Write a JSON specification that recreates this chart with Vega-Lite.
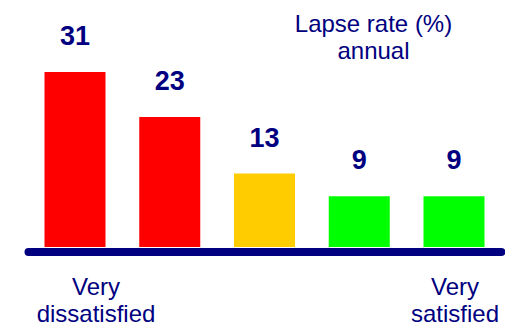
{
  "$schema": "https://vega.github.io/schema/vega-lite/v6.json",
  "width": 473,
  "height": 240,
  "autosize": {"type": "none"},
  "padding": {"left": 28, "top": 7, "right": 4, "bottom": 80},
  "background": "white",
  "config": {
    "view": {"stroke": null},
    "font": "Liberation Sans"
  },
  "title": {
    "text": ["Lapse rate (%)", "annual"],
    "anchor": "middle",
    "align": "center",
    "baseline": "top",
    "dx": 109,
    "offset": -57,
    "lineHeight": 27,
    "font": "Liberation Sans",
    "fontSize": 24,
    "fontWeight": "normal",
    "color": "#000080"
  },
  "data": {
    "values": [
      {"satisfaction": "Very dissatisfied", "lapse": 31},
      {"satisfaction": "Dissatisfied", "lapse": 23},
      {"satisfaction": "Neutral", "lapse": 13},
      {"satisfaction": "Satisfied", "lapse": 9},
      {"satisfaction": "Very satisfied", "lapse": 9}
    ]
  },
  "encoding": {
    "x": {
      "field": "satisfaction",
      "type": "nominal",
      "sort": null,
      "scale": {"paddingInner": 0.356, "paddingOuter": 0.174},
      "axis": {
        "title": null,
        "labelAngle": 0,
        "ticks": false,
        "offset": 4.5,
        "domainColor": "#000080",
        "domainWidth": 8,
        "domainCap": "round",
        "labelExpr": "datum.value == 'Very dissatisfied' || datum.value == 'Very satisfied' ? split(datum.value, ' ') : ''",
        "labelFont": "Liberation Sans",
        "labelFontSize": 24,
        "labelColor": "#000080",
        "labelLineHeight": 27,
        "labelPadding": 24,
        "labelBaseline": "top",
        "labelOverlap": false,
        "labelLimit": 0,
        "labelOffset": {
          "condition": {"test": "datum.value == 'Very dissatisfied'", "value": 21},
          "value": 1
        }
      }
    },
    "y": {
      "field": "lapse",
      "type": "quantitative",
      "scale": {"domain": [0, 42.5]},
      "axis": null
    }
  },
  "layer": [
    {
      "mark": {"type": "bar"},
      "encoding": {
        "color": {
          "field": "satisfaction",
          "type": "nominal",
          "sort": null,
          "scale": {
            "domain": ["Very dissatisfied", "Dissatisfied", "Neutral", "Satisfied", "Very satisfied"],
            "range": ["#ff0000", "#ff0000", "#ffcc00", "#00ff00", "#00ff00"]
          },
          "legend": null
        }
      }
    },
    {
      "mark": {
        "type": "text",
        "dy": -27,
        "baseline": "alphabetic",
        "font": "Liberation Sans",
        "fontSize": 27,
        "fontWeight": "bold",
        "color": "#000080"
      },
      "encoding": {
        "text": {"field": "lapse", "type": "quantitative"}
      }
    }
  ]
}
